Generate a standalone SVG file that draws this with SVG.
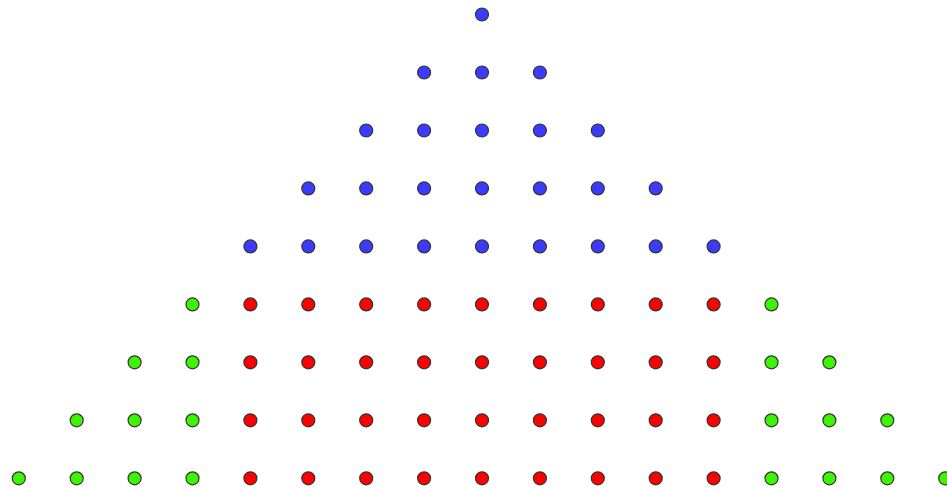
<svg xmlns="http://www.w3.org/2000/svg" width="947" height="489" viewBox="0 0 947 489">
<style>
circle{stroke:#333;stroke-width:1.2}
.b{fill:#3b3bff}
.r{fill:#ff0000}
.g{fill:#3cf500}
</style>
<rect width="947" height="489" fill="#fff"/>
<g id="row0">
<circle class="b" cx="482" cy="14.5" r="6.5"/>
</g>
<g id="row1">
<circle class="b" cx="424.1" cy="72.5" r="6.5"/><circle class="b" cx="482" cy="72.5" r="6.5"/><circle class="b" cx="539.9" cy="72.5" r="6.5"/>
</g>
<g id="row2">
<circle class="b" cx="366.2" cy="130.5" r="6.5"/><circle class="b" cx="424.1" cy="130.5" r="6.5"/><circle class="b" cx="482" cy="130.5" r="6.5"/><circle class="b" cx="539.9" cy="130.5" r="6.5"/><circle class="b" cx="597.8" cy="130.5" r="6.5"/>
</g>
<g id="row3">
<circle class="b" cx="308.3" cy="188.4" r="6.5"/><circle class="b" cx="366.2" cy="188.4" r="6.5"/><circle class="b" cx="424.1" cy="188.4" r="6.5"/><circle class="b" cx="482" cy="188.4" r="6.5"/><circle class="b" cx="539.9" cy="188.4" r="6.5"/><circle class="b" cx="597.8" cy="188.4" r="6.5"/><circle class="b" cx="655.7" cy="188.4" r="6.5"/>
</g>
<g id="row4">
<circle class="b" cx="250.4" cy="246.4" r="6.5"/><circle class="b" cx="308.3" cy="246.4" r="6.5"/><circle class="b" cx="366.2" cy="246.4" r="6.5"/><circle class="b" cx="424.1" cy="246.4" r="6.5"/><circle class="b" cx="482" cy="246.4" r="6.5"/><circle class="b" cx="539.9" cy="246.4" r="6.5"/><circle class="b" cx="597.8" cy="246.4" r="6.5"/><circle class="b" cx="655.7" cy="246.4" r="6.5"/><circle class="b" cx="713.6" cy="246.4" r="6.5"/>
</g>
<g id="row5">
<circle class="g" cx="192.5" cy="304.4" r="6.5"/>
<circle class="r" cx="250.4" cy="304.4" r="6.5"/><circle class="r" cx="308.3" cy="304.4" r="6.5"/><circle class="r" cx="366.2" cy="304.4" r="6.5"/><circle class="r" cx="424.1" cy="304.4" r="6.5"/><circle class="r" cx="482" cy="304.4" r="6.5"/><circle class="r" cx="539.9" cy="304.4" r="6.5"/><circle class="r" cx="597.8" cy="304.4" r="6.5"/><circle class="r" cx="655.7" cy="304.4" r="6.5"/><circle class="r" cx="713.6" cy="304.4" r="6.5"/>
<circle class="g" cx="771.5" cy="304.4" r="6.5"/>
</g>
<g id="row6">
<circle class="g" cx="134.6" cy="362.3" r="6.5"/><circle class="g" cx="192.5" cy="362.3" r="6.5"/>
<circle class="r" cx="250.4" cy="362.3" r="6.5"/><circle class="r" cx="308.3" cy="362.3" r="6.5"/><circle class="r" cx="366.2" cy="362.3" r="6.5"/><circle class="r" cx="424.1" cy="362.3" r="6.5"/><circle class="r" cx="482" cy="362.3" r="6.5"/><circle class="r" cx="539.9" cy="362.3" r="6.5"/><circle class="r" cx="597.8" cy="362.3" r="6.5"/><circle class="r" cx="655.7" cy="362.3" r="6.5"/><circle class="r" cx="713.6" cy="362.3" r="6.5"/>
<circle class="g" cx="771.5" cy="362.3" r="6.5"/><circle class="g" cx="829.4" cy="362.3" r="6.5"/>
</g>
<g id="row7">
<circle class="g" cx="76.7" cy="420.3" r="6.5"/><circle class="g" cx="134.6" cy="420.3" r="6.5"/><circle class="g" cx="192.5" cy="420.3" r="6.5"/>
<circle class="r" cx="250.4" cy="420.3" r="6.5"/><circle class="r" cx="308.3" cy="420.3" r="6.5"/><circle class="r" cx="366.2" cy="420.3" r="6.5"/><circle class="r" cx="424.1" cy="420.3" r="6.5"/><circle class="r" cx="482" cy="420.3" r="6.5"/><circle class="r" cx="539.9" cy="420.3" r="6.5"/><circle class="r" cx="597.8" cy="420.3" r="6.5"/><circle class="r" cx="655.7" cy="420.3" r="6.5"/><circle class="r" cx="713.6" cy="420.3" r="6.5"/>
<circle class="g" cx="771.5" cy="420.3" r="6.5"/><circle class="g" cx="829.4" cy="420.3" r="6.5"/><circle class="g" cx="887.3" cy="420.3" r="6.5"/>
</g>
<g id="row8">
<circle class="g" cx="18.8" cy="478.3" r="6.5"/><circle class="g" cx="76.7" cy="478.3" r="6.5"/><circle class="g" cx="134.6" cy="478.3" r="6.5"/><circle class="g" cx="192.5" cy="478.3" r="6.5"/>
<circle class="r" cx="250.4" cy="478.3" r="6.5"/><circle class="r" cx="308.3" cy="478.3" r="6.5"/><circle class="r" cx="366.2" cy="478.3" r="6.5"/><circle class="r" cx="424.1" cy="478.3" r="6.5"/><circle class="r" cx="482" cy="478.3" r="6.5"/><circle class="r" cx="539.9" cy="478.3" r="6.5"/><circle class="r" cx="597.8" cy="478.3" r="6.5"/><circle class="r" cx="655.7" cy="478.3" r="6.5"/><circle class="r" cx="713.6" cy="478.3" r="6.5"/>
<circle class="g" cx="771.5" cy="478.3" r="6.5"/><circle class="g" cx="829.4" cy="478.3" r="6.5"/><circle class="g" cx="887.3" cy="478.3" r="6.5"/><circle class="g" cx="945.2" cy="478.3" r="6.5"/>
</g>
</svg>
